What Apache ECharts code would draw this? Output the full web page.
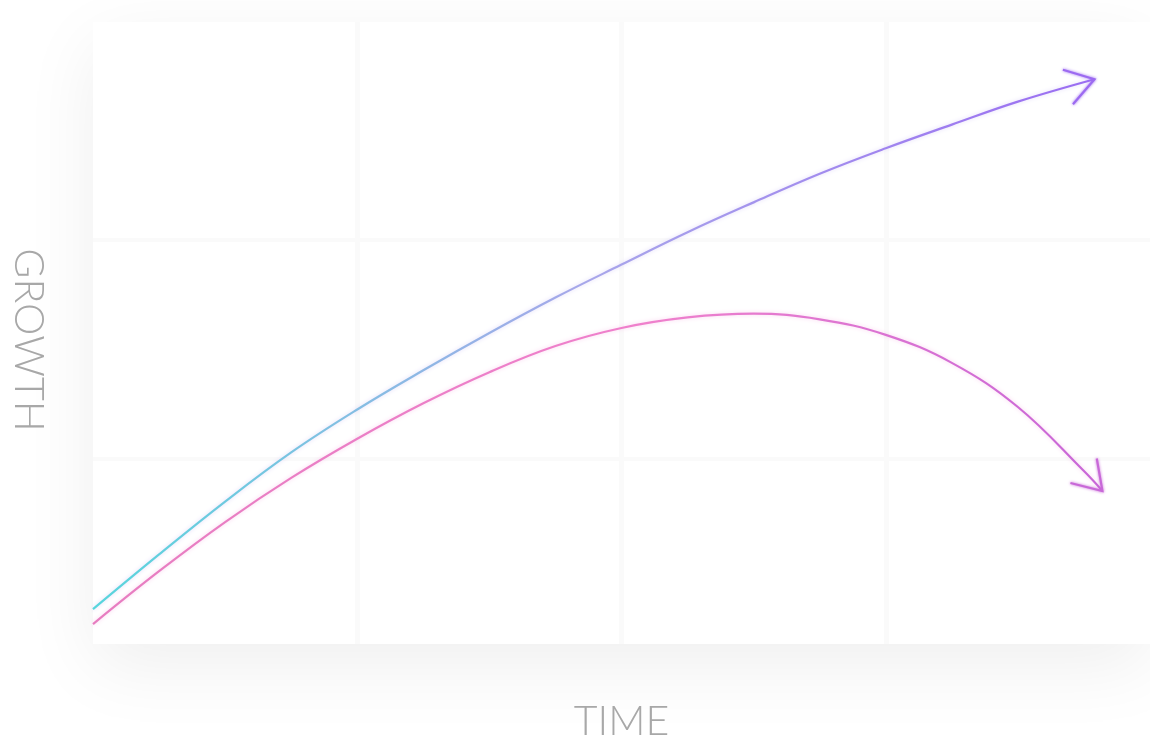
<!DOCTYPE html>
<html>
<head>
<meta charset="utf-8">
<script src="https://cdn.jsdelivr.net/npm/echarts@6/dist/echarts.min.js"></script>
<style>
html,body{margin:0;padding:0;background:#ffffff;}
#c{width:1150px;height:747px;}
</style>
</head>
<body>
<div id="c"></div>
<script>
// Data (x: time, y: growth)
var upperCurve = [
  [0, 0.56], [0.25, 1.44], [0.5, 2.29], [0.75, 3.08], [1, 3.77], [1.25, 4.40],
  [1.5, 5.00], [1.75, 5.57], [2, 6.10], [2.25, 6.62], [2.5, 7.10], [2.75, 7.56],
  [3, 7.97], [3.25, 8.35], [3.5, 8.72], [3.79, 9.08]
];
var lowerCurve = [
  [0, 0.32], [0.25, 1.17], [0.5, 1.96], [0.75, 2.67], [1, 3.30], [1.25, 3.87],
  [1.5, 4.37], [1.75, 4.79], [2, 5.08], [2.25, 5.25], [2.5, 5.31], [2.75, 5.22],
  [3, 4.97], [3.25, 4.52], [3.5, 3.81], [3.75, 2.78], [3.82, 2.46]
];
var xAxisName = 'TIME';
var yAxisName = 'GROWTH';

function arrowData(arr) {
  var a = arr[arr.length - 1], b = arr[arr.length - 2];
  return [[a[0], a[1], b[0], b[1]]];
}
function arrowRender(color) {
  return function (params, api) {
    var p = api.coord([api.value(0), api.value(1)]);
    var q = api.coord([api.value(2), api.value(3)]);
    var ang = Math.atan2(p[1] - q[1], p[0] - q[0]);
    var L = 33, spread = 33 * Math.PI / 180;
    var w1 = [p[0] - L * Math.cos(ang - spread), p[1] - L * Math.sin(ang - spread)];
    var w2 = [p[0] - L * Math.cos(ang + spread), p[1] - L * Math.sin(ang + spread)];
    return {
      type: 'polyline',
      shape: { points: [w1, p, w2] },
      style: { stroke: color, lineWidth: 2.2, fill: null, lineJoin: 'miter', shadowBlur: 3, shadowColor: color }
    };
  };
}

var chart = echarts.init(document.getElementById('c'));
var option = {
  backgroundColor: '#ffffff',
  animation: false,
  grid: {
    left: 90, top: 22, right: 0, bottom: 95,
    show: true, backgroundColor: '#ffffff', borderWidth: 0,
    shadowBlur: 70, shadowColor: 'rgba(0,0,0,0.065)', shadowOffsetY: 22, shadowOffsetX: 0
  },
  xAxis: {
    type: 'value', min: 0, max: 4, interval: 1,
    name: xAxisName, nameLocation: 'middle', nameGap: 57,
    nameTextStyle: { fontFamily: 'Lato', fontWeight: 300, fontSize: 41, color: '#a8a8a8' },
    axisLine: { show: false }, axisTick: { show: false }, axisLabel: { show: false },
    splitLine: { show: true, showMinLine: false, showMaxLine: false, lineStyle: { color: '#fafafa', width: 5 } }
  },
  yAxis: [
    {
      type: 'value', min: 0, max: 10, interval: 1,
      name: yAxisName, nameLocation: 'middle', nameGap: 44, nameRotate: -90,
      nameTextStyle: { fontFamily: 'Lato', fontWeight: 300, fontSize: 41, color: '#a8a8a8', padding: [0, 0, 0, 14] },
      axisLine: { show: false }, axisTick: { show: false }, axisLabel: { show: false },
      splitLine: { show: false }
    },
    {
      type: 'value', inverse: true, min: 0, max: 2.85, interval: 1,
      axisLine: { show: false }, axisTick: { show: false }, axisLabel: { show: false },
      splitLine: { show: true, showMinLine: false, showMaxLine: false, lineStyle: { color: '#fafafa', width: 4 } }
    }
  ],
  series: [
    {
      type: 'line', data: upperCurve, smooth: 0.4, showSymbol: false, symbol: 'none', z: 3,
      lineStyle: {
        width: 2.2,
        color: new echarts.graphic.LinearGradient(0, 0, 1, 0, [
          { offset: 0, color: '#57d6dc' },
          { offset: 0.25, color: '#82bfe2' },
          { offset: 0.5, color: '#a8a6ea' },
          { offset: 1, color: '#9a6cf2' }
        ]),
        shadowBlur: 4, shadowColor: 'rgba(170,150,240,0.35)'
      }
    },
    {
      type: 'line', data: lowerCurve, smooth: 0.4, showSymbol: false, symbol: 'none', z: 3,
      lineStyle: {
        width: 2.2,
        color: new echarts.graphic.LinearGradient(0, 0, 1, 0, [
          { offset: 0, color: '#e77dc0' },
          { offset: 0.55, color: '#ef80cc' },
          { offset: 1, color: '#c766d8' }
        ]),
        shadowBlur: 4, shadowColor: 'rgba(240,130,210,0.35)'
      }
    },
    {
      type: 'custom', coordinateSystem: 'cartesian2d', data: arrowData(upperCurve),
      renderItem: arrowRender('#9c6af1'), z: 4, silent: true
    },
    {
      type: 'custom', coordinateSystem: 'cartesian2d', data: arrowData(lowerCurve),
      renderItem: arrowRender('#c868d8'), z: 4, silent: true
    }
  ]
};
chart.setOption(option);
</script>
</body>
</html>
